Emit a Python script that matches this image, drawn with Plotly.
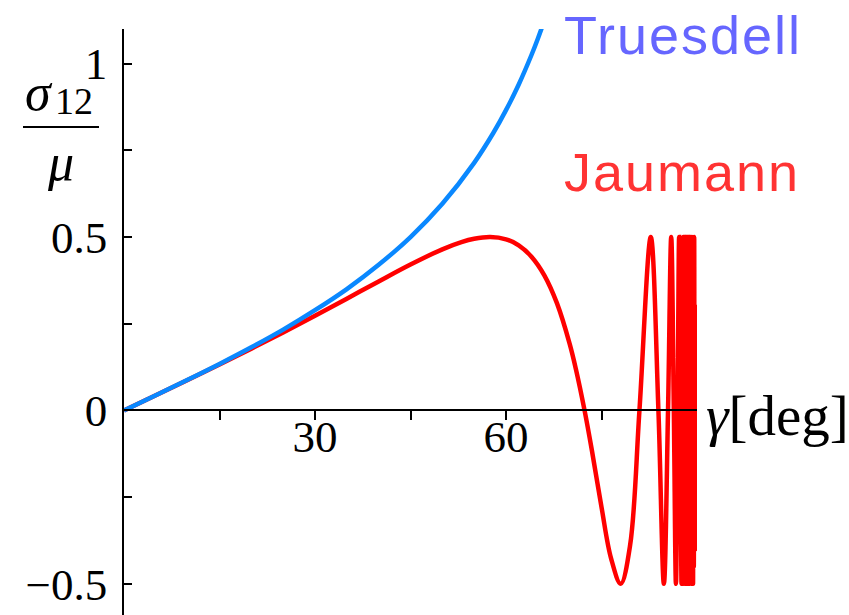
import plotly.graph_objects as go

# ---- data ----
truesdell_gamma = [0, 5, 10, 15, 20, 25, 30, 35, 40, 45, 50, 55, 58, 60, 62, 64, 65, 66]
truesdell_sigma = [0, 0.0437, 0.0882, 0.134, 0.182, 0.233, 0.289, 0.350, 0.420, 0.5,
                   0.596, 0.714, 0.800, 0.866, 0.940, 1.025, 1.072, 1.123]

jaumann_gamma = [0, 5, 10, 15, 20, 25, 30, 35, 40, 45, 50, 53, 55, 57.52, 60, 62, 64, 66,
                 68, 70, 71, 72.34, 73.5, 75, 76.5, 78.02, 79.5, 80.96,
                 82.74, 83.94, 84.80, 85.45, 85.95, 86.36, 86.69, 86.96, 87.19, 87.40,
                 87.57, 87.72, 87.85, 87.97, 88.08, 88.18, 88.26, 88.34, 88.41, 88.48,
                 88.54, 88.60, 88.66, 88.72, 88.78, 88.84, 88.90, 88.96, 89.02, 89.08,
                 89.14, 89.20, 89.26, 89.32, 89.38, 89.44, 89.50, 89.56, 89.62, 89.68,
                 89.74, 89.80, 89.86, 89.92, 89.97]
jaumann_sigma = [0, 0.0437, 0.0877, 0.1324, 0.178, 0.2248, 0.2728, 0.3222, 0.372, 0.4207,
                 0.4646, 0.4853, 0.495, 0.5, 0.4935, 0.4762, 0.4435, 0.3905,
                 0.3093, 0.192, 0.1175, 0, -0.1163, -0.2788, -0.4266, -0.5, -0.3879, 0,
                 0.5, 0, -0.5, 0, 0.5, 0, -0.5, 0, 0.5, 0,
                 -0.5, 0, 0.5, 0, -0.5, 0, 0.5, 0, -0.5, 0,
                 0.5, 0, -0.5, 0.5, -0.5, 0.42, -0.48, 0.5, -0.45, 0.33,
                 -0.5, 0.5, -0.3, 0.45, -0.5, 0.25, -0.45, 0.5, -0.2, 0.1,
                 -0.4, 0.3, -0.35, 0.2, -0.1]

x_tickvals = [15, 30, 45, 60, 75]
x_ticktext = ["", "30", "", "60", ""]
y_tickvals = [-0.5, -0.25, 0, 0.25, 0.5, 0.75, 1]
y_ticktext = ["\u22120.5", "", "0", "", "0.5", "", "1"]

X_RANGE = [0, 90]
Y_RANGE = [-0.59, 1.1]

W, H = 849, 615
ML, MR, MT, MB = 124, 152, 29, 0
PW = W - ML - MR
PH = H - MT - MB

def px_x(p):
    return (p - ML) / PW

def px_y(p):
    return (H - MB - p) / PH

x_axis_pos = (0 - Y_RANGE[0]) / (Y_RANGE[1] - Y_RANGE[0])

fig = go.Figure()
fig.add_trace(go.Scatter(x=jaumann_gamma, y=jaumann_sigma, mode="lines",
                         line=dict(color="#ff0000", width=4.5, shape="spline"),
                         showlegend=False))
fig.add_trace(go.Scatter(x=truesdell_gamma, y=truesdell_sigma, mode="lines",
                         line=dict(color="#0a88ff", width=4.5, shape="spline"),
                         showlegend=False))

tick_font = dict(family="Liberation Serif", size=45, color="black")

fig.update_layout(
    width=W, height=H,
    margin=dict(l=ML, r=MR, t=MT, b=MB, pad=0),
    paper_bgcolor="white", plot_bgcolor="white",
    xaxis=dict(range=X_RANGE, anchor="free", position=x_axis_pos,
               showgrid=False, zeroline=False, showline=True,
               linecolor="black", linewidth=1.5,
               ticks="outside", ticklen=9, tickwidth=1.5, tickcolor="black",
               tickvals=x_tickvals, ticktext=x_ticktext, tickfont=tick_font,
               ticklabelstandoff=-22),
    xaxis2=dict(range=X_RANGE, overlaying="x", anchor="free", position=x_axis_pos,
                showgrid=False, zeroline=False, showline=False,
                ticks="inside", ticklen=8, tickwidth=1.5, tickcolor="black",
                tickvals=x_tickvals, showticklabels=False),
    yaxis=dict(range=Y_RANGE, showgrid=False, zeroline=False, showline=True,
               linecolor="black", linewidth=1.5,
               ticks="inside", ticklen=8, tickwidth=1.5, tickcolor="black",
               tickvals=y_tickvals, ticktext=y_ticktext, tickfont=tick_font,
               ticklabelstandoff=6),
)

serif = "Liberation Serif"
fig.add_annotation(text="<i>σ</i>", xref="paper", yref="paper",
                   x=px_x(39), y=px_y(92), xanchor="center", yanchor="middle",
                   showarrow=False, font=dict(family=serif, size=52, color="black"))
fig.add_annotation(text="12", xref="paper", yref="paper",
                   x=px_x(74), y=px_y(101), xanchor="center", yanchor="middle",
                   showarrow=False, font=dict(family=serif, size=38, color="black"))
fig.add_shape(type="line", xref="paper", yref="paper",
              x0=px_x(23), x1=px_x(99), y0=px_y(127), y1=px_y(127),
              line=dict(color="black", width=2))
fig.add_annotation(text="<i>μ</i>", xref="paper", yref="paper",
                   x=px_x(60), y=px_y(163), xanchor="center", yanchor="middle",
                   showarrow=False, font=dict(family=serif, size=52, color="black"))
fig.add_annotation(text="<i>γ</i>[deg]", xref="paper", yref="paper",
                   x=px_x(704), y=px_y(416), xanchor="left", yanchor="middle",
                   showarrow=False, font=dict(family=serif, size=57, color="black"))
fig.add_annotation(text="<span style='letter-spacing:2px'>Truesdell</span>",
                   xref="paper", yref="paper",
                   x=px_x(562), y=px_y(35), xanchor="left", yanchor="middle",
                   showarrow=False, font=dict(family="Liberation Sans", size=54, color="#6666ff"))
fig.add_annotation(text="<span style='letter-spacing:2px'>Jaumann</span>",
                   xref="paper", yref="paper",
                   x=px_x(562), y=px_y(172), xanchor="left", yanchor="middle",
                   showarrow=False, font=dict(family="Liberation Sans", size=54, color="#ff3333"))

fig.write_html("out.html")
